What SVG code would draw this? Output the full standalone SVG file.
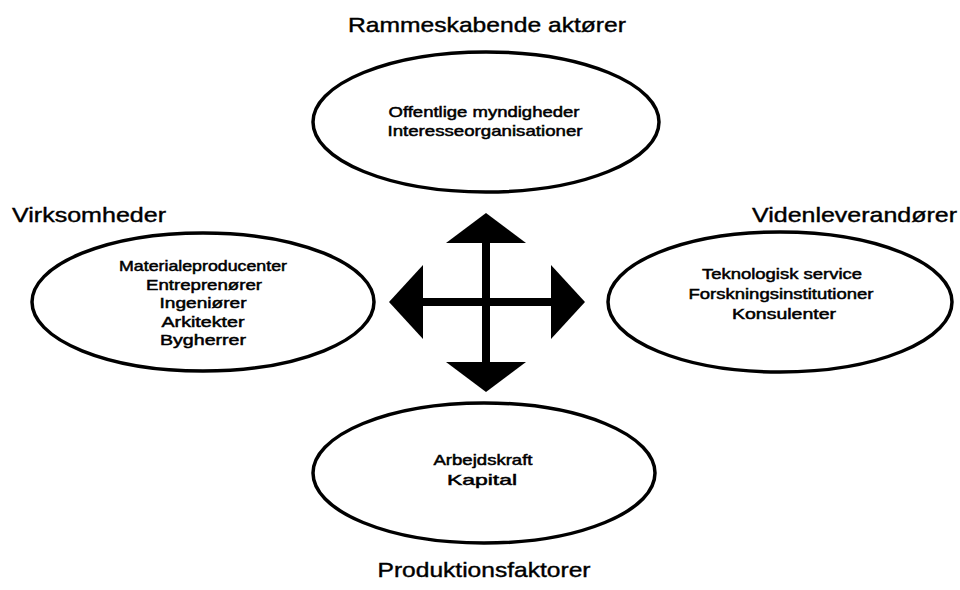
<svg xmlns="http://www.w3.org/2000/svg" width="960" height="590" viewBox="0 0 960 590">
  <style>
    .node ellipse { fill: #ffffff; stroke: #000000; stroke-width: 3.5; }
    .title { font-family: "Liberation Sans", Arial, sans-serif; font-size: 21px; fill: #000; stroke: #000; stroke-width: 0.4; }
    .item { font-family: "Liberation Sans", Arial, sans-serif; font-size: 15px; fill: #000; stroke: #000; stroke-width: 0.5; text-anchor: middle; }
    .shaft { stroke: #000; stroke-width: 8; fill: none; }
  </style>
  <defs>
    <marker id="headV" markerUnits="userSpaceOnUse" markerWidth="32" markerHeight="82" viewBox="0 -41 32 82" refX="0" refY="0" orient="auto-start-reverse">
      <polygon points="0,-40 30,0 0,40" fill="#000"/>
    </marker>
    <marker id="headH" markerUnits="userSpaceOnUse" markerWidth="36" markerHeight="76" viewBox="0 -38 36 76" refX="0" refY="0" orient="auto-start-reverse">
      <polygon points="0,-37 34,0 0,37" fill="#000"/>
    </marker>
  </defs>
  <rect width="960" height="590" fill="#ffffff"/>

  <g id="connectors">
    <line class="shaft" x1="486" y1="243" x2="486" y2="362" marker-start="url(#headV)" marker-end="url(#headV)"/>
    <line class="shaft" x1="423" y1="302" x2="551" y2="302" marker-start="url(#headH)" marker-end="url(#headH)"/>
  </g>

  <g id="rammeskabende" class="node">
    <text class="title" x="487" y="32" text-anchor="middle" textLength="278" lengthAdjust="spacingAndGlyphs">Rammeskabende aktører</text>
    <ellipse cx="486" cy="122" rx="173" ry="70"/>
    <text class="item" x="484" y="117" textLength="191" lengthAdjust="spacingAndGlyphs">Offentlige myndigheder</text>
    <text class="item" x="485" y="136" textLength="195" lengthAdjust="spacingAndGlyphs">Interesseorganisationer</text>
  </g>

  <g id="virksomheder" class="node">
    <text class="title" x="12" y="222" textLength="154" lengthAdjust="spacingAndGlyphs">Virksomheder</text>
    <ellipse cx="203" cy="302" rx="171" ry="69"/>
    <text class="item" x="203" y="271" textLength="168" lengthAdjust="spacingAndGlyphs">Materialeproducenter</text>
    <text class="item" x="204" y="289.5" textLength="116" lengthAdjust="spacingAndGlyphs">Entreprenører</text>
    <text class="item" x="203" y="308" textLength="87" lengthAdjust="spacingAndGlyphs">Ingeniører</text>
    <text class="item" x="203" y="326.5" textLength="83" lengthAdjust="spacingAndGlyphs">Arkitekter</text>
    <text class="item" x="203" y="345" textLength="86" lengthAdjust="spacingAndGlyphs">Bygherrer</text>
  </g>

  <g id="videnleverandorer" class="node">
    <text class="title" x="752" y="222" textLength="205" lengthAdjust="spacingAndGlyphs">Videnleverandører</text>
    <ellipse cx="780" cy="302" rx="172" ry="70"/>
    <text class="item" x="782" y="279" textLength="160" lengthAdjust="spacingAndGlyphs">Teknologisk service</text>
    <text class="item" x="781" y="299" textLength="185" lengthAdjust="spacingAndGlyphs">Forskningsinstitutioner</text>
    <text class="item" x="784" y="319" textLength="104" lengthAdjust="spacingAndGlyphs">Konsulenter</text>
  </g>

  <g id="produktionsfaktorer" class="node">
    <ellipse cx="484" cy="473" rx="171" ry="70"/>
    <text class="item" x="483" y="465" textLength="99" lengthAdjust="spacingAndGlyphs">Arbejdskraft</text>
    <text class="item" x="482" y="485" textLength="70" lengthAdjust="spacingAndGlyphs">Kapital</text>
    <text class="title" x="484" y="577" text-anchor="middle" textLength="213" lengthAdjust="spacingAndGlyphs">Produktionsfaktorer</text>
  </g>
</svg>
